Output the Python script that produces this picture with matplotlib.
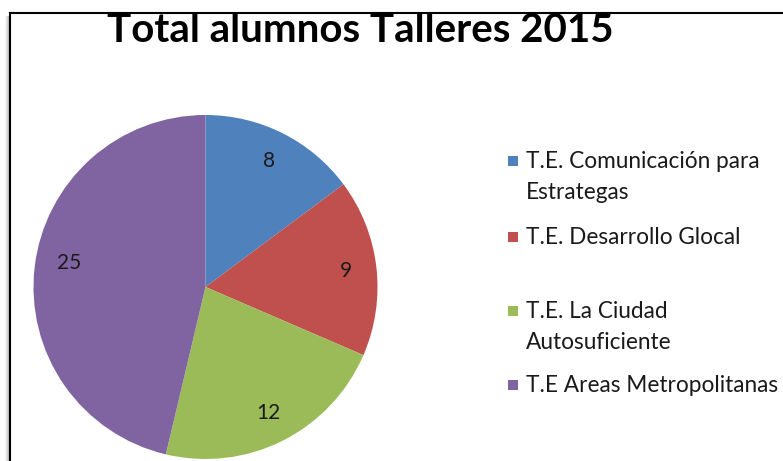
import numpy as np
import matplotlib
matplotlib.use("Agg")
import matplotlib.pyplot as plt
from matplotlib.patches import Rectangle
from matplotlib.lines import Line2D

# ── data ──────────────────────────────────────────────────────────────────────
talleres = [
    "T.E. Comunicación para\nEstrategas",
    "T.E. Desarrollo Glocal",
    "T.E. La Ciudad\nAutosuficiente",
    "T.E Areas Metropolitanas",
]
alumnos = [8, 9, 12, 25]
colores = ["#4F81BD", "#C0504D", "#9BBB59", "#8064A2"]
titulo = "Total alumnos Talleres 2015"

FONT = "Lato"
W, H = 783, 461


def py(y):
    """pixel row (from top) -> axes y"""
    return H - y


fig = plt.figure(figsize=(W / 100, H / 100), dpi=100)
fig.patch.set_facecolor("white")

# axes in pixel coordinates
ax = fig.add_axes([0, 0, 1, 1])

cx, cy = 205.5, py(287)
wedges, texts, autotexts = ax.pie(
    alumnos, colors=colores, startangle=90, counterclock=False,
    center=(cx, cy), radius=172, frame=True,
    autopct=lambda p: f"{p * sum(alumnos) / 100:.0f}", pctdistance=0.82,
    textprops=dict(fontsize=15, color="#1a1a1a", family=FONT),
    wedgeprops=dict(linewidth=0),
)
ax.set_xlim(0, W)
ax.set_ylim(0, H)
ax.set_aspect("equal")
ax.axis("off")

# Excel "best fit" moves the big slice's label up to the left
ang = np.deg2rad(170)
autotexts[3].set_position((cx + 138 * np.cos(ang), cy + 138 * np.sin(ang)))

# chart border + shadow
for i, g in enumerate(["#f2f2f2", "#e4e4e4", "#d2d2d2", "#bdbdbd"]):
    ax.add_line(Line2D([6 + i, 6 + i], [py(17), 0], color=g, lw=1.2))
ax.add_line(Line2D([10, W], [py(13), py(13)], color="black", lw=1.5))
ax.add_line(Line2D([10, 10], [py(13), 0], color="black", lw=1.5))

ax.text(360, py(31), titulo, ha="center", va="center", fontsize=29,
        fontweight="bold", family=FONT, color="black")

# legend
leg_y = [161, 237, 311, 385]
for lbl, col, y in zip(talleres, colores, leg_y):
    ax.add_patch(Rectangle((508, py(y + 5)), 10, 10, color=col, lw=0))
    ax.text(526, py(y - 10), lbl, ha="left", va="top", fontsize=16.3,
            family=FONT, color="#1a1a1a", linespacing=1.56)

fig.savefig("out.png", dpi=100)
